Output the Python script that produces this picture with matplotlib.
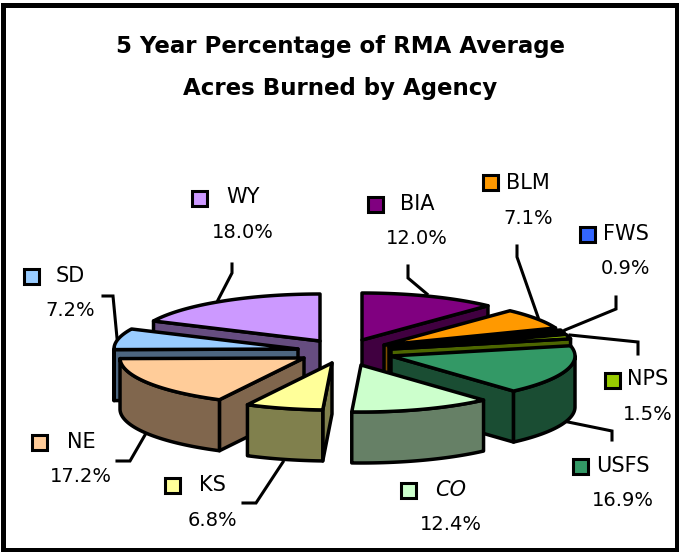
import matplotlib
matplotlib.use("Agg")
import matplotlib.pyplot as plt
from matplotlib.patches import Polygon, Rectangle
import numpy as np

# clockwise from 12 o'clock
agencies = ["BIA", "BLM", "FWS", "NPS", "USFS", "CO", "KS", "NE", "SD", "WY"]
percents = [12.0, 7.1, 0.9, 1.5, 16.9, 12.4, 6.8, 17.2, 7.2, 18.0]
pct_labels = ["12.0%", "7.1%", "0.9%", "1.5%", "16.9%", "12.4%", "6.8%", "17.2%", "7.2%", "18.0%"]
colors = ["#800080", "#FF9900", "#3366FF", "#99CC00", "#339966",
          "#CCFFCC", "#FFFF99", "#FFCC99", "#99CCFF", "#CC99FF"]

# layout, in pixels of the 679x552 picture
tips = [(362, 340), (384, 345), (389, 347), (391, 349), (391, 356),
        (361, 365), (332, 363), (304, 358), (298, 349), (320, 341)]
draw_order = [9, 0, 1, 2, 3, 8, 4, 7, 5, 6]
key_pos = [(375, 204), (490, 182), (587, 234), (612, 380), (580, 466),
           (408, 490), (172, 485), (39, 442), (31, 276), (199, 198)]
name_pos = [(417, 204), (528, 183), (626, 234), (648, 379), (623, 466),
            (451, 490), (212, 485), (81, 442), (70, 276), (243, 197)]
pct_pos = [(417, 239), (528, 218), (626, 269), (648, 414), (623, 500),
           (451, 525), (212, 520), (81, 477), (70, 311), (243, 232)]
leaders = [[(408, 266), (408, 278), (427, 294)],
           [(517, 246), (517, 257), (538, 317)],
           [(616, 297), (616, 309), (565, 330)],
           [(638, 354), (638, 342), (570, 335)],
           [(612, 440), (612, 431), (568, 422)],
           [],
           [(243, 503), (256, 503), (283, 462)],
           [(117, 461), (130, 461), (145, 435)],
           [(103, 296), (113, 296), (117, 338)],
           [(232, 264), (232, 273), (218, 300)]]
rx, ry, depth = 184, 47, 51
lw = 2.5


def darker(c):
    return tuple(v * 0.5 for v in matplotlib.colors.to_rgb(c))


def rim(tip, a, b, n=60):
    t = np.radians(np.linspace(a, b, n))
    return np.column_stack([tip[0] + rx * np.sin(t), tip[1] - ry * np.cos(t)])


def add_poly(ax, pts, color):
    ax.add_patch(Polygon(pts, closed=True, fc=color, ec="black", lw=lw, joinstyle="round"))


fig = plt.figure(figsize=(6.79, 5.52), dpi=100)
ax = fig.add_axes([0, 0, 1, 1])
ax.set_xlim(0, 679)
ax.set_ylim(552, 0)
ax.axis("off")

ax.add_patch(Rectangle((2.5, 4.5), 674.5, 545, fc="white", ec="black", lw=3.6))

ends = np.cumsum(percents) / sum(percents) * 360
starts = np.concatenate([[0], ends[:-1]])

for i in draw_order:
    tip, a, b = tips[i], starts[i], ends[i]
    wall = darker(colors[i])
    drop = np.array([0, depth])
    top = rim(tip, a, b)
    # only the sides that face the viewer
    if 180 < a < 360:
        add_poly(ax, [tip, top[0], top[0] + drop, np.array(tip) + drop], wall)
    if 0 < b < 180:
        add_poly(ax, [tip, top[-1], top[-1] + drop, np.array(tip) + drop], wall)
    lo, hi = max(a, 90), min(b, 270)
    if lo < hi:
        arc = rim(tip, lo, hi)
        add_poly(ax, np.vstack([arc, arc[::-1] + drop]), wall)
    add_poly(ax, np.vstack([[tip], top]), colors[i])

for line in leaders:
    if line:
        xs, ys = zip(*line)
        ax.plot(xs, ys, color="black", lw=2.2, solid_joinstyle="miter")

for i, name in enumerate(agencies):
    kx, ky = key_pos[i]
    ax.add_patch(Rectangle((kx - 7.5, ky - 7.5), 15, 15, fc=colors[i], ec="black", lw=2.2))
    ax.text(name_pos[i][0], name_pos[i][1], name, fontsize=15, ha="center", va="center",
            style="italic" if name == "CO" else "normal")
    ax.text(pct_pos[i][0], pct_pos[i][1], pct_labels[i], fontsize=14, ha="center", va="center")

ax.text(340, 47, "5 Year Percentage of RMA Average", fontsize=16.5, fontweight="bold",
        ha="center", va="center")
ax.text(340, 88, "Acres Burned by Agency", fontsize=16.5, fontweight="bold",
        ha="center", va="center")

fig.savefig("out.png", dpi=100)
